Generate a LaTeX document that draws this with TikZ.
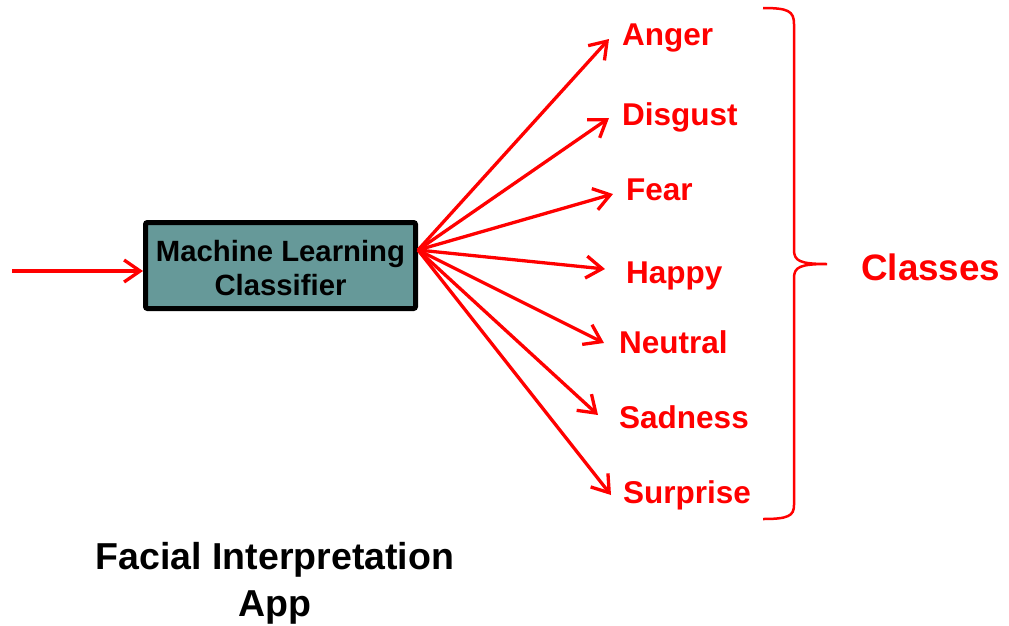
\documentclass[tikz,border=0pt]{standalone}
\usepackage{fontspec}
\setmainfont{Liberation Sans}
\usetikzlibrary{arrows.meta}
\definecolor{boxteal}{RGB}{102,153,153}
\begin{document}
\begin{tikzpicture}[x=1pt,y=-1pt,
  conn/.style={draw=red, line width=3.3pt, -{Straight Barb[length=16pt,width=22pt,line width=3.3pt]}},
  cls/.style={text=red, font=\fontsize{31.5}{36}\selectfont\bfseries, anchor=base west, inner sep=0pt},
  mlbox/.style={draw=black, line width=5pt, fill=boxteal, rounded corners=2pt,
    minimum width=270pt, minimum height=86pt, align=center, inner sep=0pt,
    font=\fontsize{29.3}{34}\selectfont\bfseries},
  bracestyle/.style={draw=red, line width=2.5pt}]
\useasboundingbox (0,0) rectangle (1009,625);

% classifier box
\node[mlbox] (ml) at (280.5,265.5) {\rule{0pt}{26.5pt}Machine Learning\\Classifier};

% input arrow
\coordinate (in) at (12,271);
\draw[conn] (in) -- (in -| ml.west);

% hub on the box
\coordinate (hub) at ([yshift=15.5pt]ml.east);

% class labels
\node[cls] (anger)    at (622,45)  {Anger};
\node[cls] (disgust)  at (622,125) {Disgust};
\node[cls] (fear)     at (626,200) {Fear};
\node[cls] (happy)    at (626,283) {Happy};
\node[cls] (neutral)  at (619,353) {Neutral};
\node[cls] (sadness)  at (619,428) {Sadness};
\node[cls] (surprise) at (623,503) {Surprise};

% arrow tips
\coordinate (tA) at (609,39);
\coordinate (tD) at (609,118);
\coordinate (tF) at (613,194);
\coordinate (tH) at (605,269);
\coordinate (tN) at (604,343);
\coordinate (tS) at (598,415);
\coordinate (tU) at (611,495);

\foreach \t in {tA,tD,tF,tH,tN,tS,tU}
  \draw[conn] (hub) -- (\t);

% brace
\coordinate (btop) at (763,8);
\coordinate (bbot) at (763,519);
\coordinate (btip) at (827,264);
\draw[bracestyle] (btop) .. controls (788,8) and (794,11) .. (794,24)
  -- (794,250) .. controls (794,261) and (800,264) .. (btip)
  .. controls (800,264) and (794,267) .. (794,278)
  -- (794,505) .. controls (794,516) and (788,519) .. (bbot);

\node[text=red, font=\fontsize{36.8}{40}\selectfont\bfseries, anchor=base west, inner sep=0pt]
  (classes) at (861,280) {Classes};

% caption
\node[font=\fontsize{37.5}{47}\selectfont\bfseries, align=center, anchor=north, inner sep=0pt]
  (caption) at (275,542) {Facial Interpretation\\App};
\end{tikzpicture}
\end{document}
